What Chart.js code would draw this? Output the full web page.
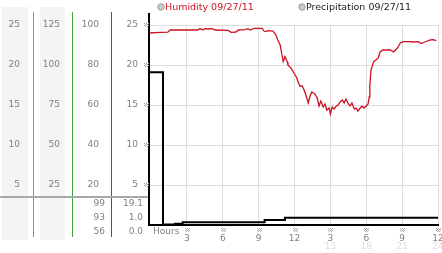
<!DOCTYPE html>
<html>
<head>
<meta charset="utf-8">
<script src="https://cdn.jsdelivr.net/npm/chart.js@4"></script>
<style>
  body { margin: 0; background: #fff; }
  canvas { display: block; }
</style>
</head>
<body>
<canvas id="chart" width="442" height="253"></canvas>
<script>
const humHours = [-0.17, 0.75, 1.4, 1.6, 2.85, 3.9, 4.1, 4.35, 4.5, 4.8,
    5.1, 5.35, 6.45, 6.7, 7.1, 7.3, 7.85, 8.1, 8.3, 8.6,
    9.3, 9.45, 9.6, 9.8, 10.2, 10.45, 10.6, 10.8, 10.95, 11.05,
    11.2, 11.4, 11.45, 11.7, 11.9, 12.05, 12.2, 12.3, 12.45, 12.65,
    12.8, 12.95, 13.15, 13.3, 13.45, 13.7, 13.9, 14.05, 14.2, 14.4,
    14.55, 14.7, 14.9, 15.0, 15.15, 15.3, 15.5, 15.65, 15.8, 16.0,
    16.15, 16.3, 16.5, 16.65, 16.8, 17.0, 17.15, 17.3, 17.5, 17.65,
    17.8, 18.0, 18.15, 18.25, 18.3, 18.4, 18.6, 18.8, 19.0, 19.15,
    19.4, 20.0, 20.3, 20.6, 20.85, 21.1, 21.65, 21.9, 22.35, 22.6,
    22.9, 23.35, 23.6, 23.85];
const humValues = [96, 96.3, 96.4, 97.5, 97.5, 97.5, 98.2, 97.5, 98.2, 98,
    98.2, 97.5, 97.3, 96.3, 96.5, 97.5, 97.7, 98.2, 97.5, 98.3,
    98.3, 97, 96.7, 97.2, 97, 95, 92.5, 90, 85, 81.7,
    84.2, 81.5, 80, 78.5, 76.5, 75, 73.5, 71.5, 69.5, 69.5,
    67.5, 65, 61, 64.5, 66.5, 65.5, 63.5, 59.5, 62, 59,
    60.5, 57.5, 58.5, 55.5, 59, 58, 59.5, 60, 61.5, 62.5,
    61, 63, 60.5, 59.5, 61, 58, 58.5, 57, 58.5, 59.5,
    58.5, 59.5, 60.5, 64, 70, 77.5, 81.5, 82.5, 83.5, 86.5,
    87.5, 87.5, 86.5, 88.5, 91, 91.7, 91.7, 91.5, 91.7, 90.7,
    91.5, 92.5, 92.7, 92.2];

const precipHours = [-0.17, 1.0, 2.0, 2.65, 9.5, 11.2, 24];
const precipValues = [19.1, 0.05, 0.15, 0.35, 0.62, 0.92, 0.92];

const hourTicks = [3, 6, 9, 12, 15, 18, 21, 24];
const humStats = ['99', '93', '56'];
const precipStats = ['19.1', '1.0', '0.0'];
const legendLabels = ['Humidity 09/27/11', 'Precipitation 09/27/11'];

const GRAY = '#808080';
const HUM_RED = '#cc1122';

function fixWidth(w) {
    return function (s) {
        s.width = w;
        s.paddingTop = 0;
        s.paddingBottom = 0;
    };
}
function fixHeight(h) {
    return function (s) {
        s.height = h;
        s.paddingLeft = 0;
        s.paddingRight = 0;
    };
}
function noZero(v) {
    return v === 0 ? '' : v;
}
function hourTicksOnly(s) {
    s.ticks = hourTicks.map(v => ({ value: v }));
}

function drawMark(ctx, cx, cy) {
    ctx.fillStyle = '#aaaaaa';
    const x0 = Math.round(cx) - 2, y0 = Math.round(cy) - 2;
    for (let i = 0; i < 5; i++) {
        for (let j = 0; j < 4; j++) {
            if ((i + j) % 2 === 0) ctx.fillRect(x0 + i, y0 + j, 1, 1);
        }
    }
}

const decor = {
    id: 'decor',
    beforeDraw(chart) {
        const ctx = chart.ctx;
        const s1 = chart.scales.yA, s2 = chart.scales.yB;
        ctx.save();
        ctx.fillStyle = '#ffffff';
        ctx.fillRect(0, 0, chart.width, chart.height);
        ctx.fillStyle = '#f4f4f4';
        ctx.fillRect(s1.left + 2, 7, 26, 233);
        ctx.fillRect(s2.left + 7, 7, 25, 233);
        ctx.restore();
    },
    afterDraw(chart) {
        const ctx = chart.ctx;
        const a = chart.chartArea;
        const sc = chart.scales;
        ctx.save();

        // coloured column lines
        [[sc.yA, '#3fa6d4'], [sc.yB, '#3aa63a'], [sc.yH, '#b03030']].forEach(([s, c]) => {
            ctx.fillStyle = c;
            ctx.fillRect(Math.round(s.right), 12, 1, 225);
        });

        // grey separator
        ctx.fillStyle = '#a8a8a8';
        ctx.fillRect(0, 196, a.left, 2);

        // left black axis
        ctx.fillStyle = '#000';
        ctx.fillRect(a.left - 1, 13, 2, a.bottom - 13);

        // max / current / min
        ctx.font = '9px "DejaVu Sans"';
        ctx.fillStyle = GRAY;
        ctx.textAlign = 'right';
        ctx.textBaseline = 'middle';
        humStats.forEach((t, i) => ctx.fillText(t, sc.yH.right - 6, 204 + i * 14));
        precipStats.forEach((t, i) => ctx.fillText(t, sc.yP.right - 6, 204 + i * 14));

        // Hours label
        ctx.textAlign = 'left';
        ctx.fillText('Hours', a.left + 4, 232);

        // small tick marks
        sc.yP.ticks.forEach(t => {
            if (t.value > 0) drawMark(ctx, a.left - 3, sc.yP.getPixelForValue(t.value));
        });
        hourTicks.forEach(h => drawMark(ctx, sc.x.getPixelForValue(h), 230));

        // legend
        ctx.font = '9.5px "DejaVu Sans"';
        const items = [[161, HUM_RED], [302, '#222222']];
        items.forEach(([x, c], i) => {
            ctx.beginPath();
            ctx.arc(x, 7, 3.2, 0, Math.PI * 2);
            ctx.fillStyle = '#cccccc';
            ctx.fill();
            ctx.strokeStyle = '#999999';
            ctx.lineWidth = 1;
            ctx.stroke();
            ctx.fillStyle = c;
            ctx.fillText(legendLabels[i], x + 4, 7.5);
        });
        ctx.restore();
    }
};

Chart.defaults.font.family = '"DejaVu Sans"';
Chart.defaults.font.size = 9;

new Chart(document.getElementById('chart'), {
    type: 'line',
    data: {
        datasets: [{
            label: legendLabels[0],
            data: humHours.map((h, i) => ({ x: h, y: humValues[i] })),
            xAxisID: 'x',
            yAxisID: 'yH',
            borderColor: HUM_RED,
            borderWidth: 1.3,
            pointRadius: 0,
            tension: 0
        }, {
            label: legendLabels[1],
            data: precipHours.map((h, i) => ({ x: h, y: precipValues[i] })),
            xAxisID: 'x',
            yAxisID: 'yP',
            borderColor: '#000000',
            borderWidth: 2,
            pointRadius: 0,
            stepped: 'before'
        }]
    },
    options: {
        responsive: false,
        animation: false,
        layout: { padding: { top: 25, right: 4, left: 0, bottom: 0 } },
        plugins: {
            legend: { display: false },
            tooltip: { enabled: false }
        },
        scales: {
            x: {
                type: 'linear',
                position: 'bottom',
                weight: 0,
                min: -0.17,
                max: 24,
                afterBuildTicks: hourTicksOnly,
                afterFit: fixHeight(16),
                ticks: {
                    color: GRAY,
                    padding: 8,
                    maxRotation: 0,
                    autoSkip: false,
                    callback: v => v > 12 ? v - 12 : v
                },
                grid: { color: '#dddddd', drawTicks: false },
                border: { color: '#000000', width: 2 }
            },
            x2: {
                type: 'linear',
                position: 'bottom',
                weight: 1,
                min: -0.17,
                max: 24,
                afterBuildTicks: hourTicksOnly,
                afterFit: fixHeight(12),
                ticks: {
                    color: '#dddddd',
                    padding: 0,
                    maxRotation: 0,
                    autoSkip: false,
                    callback: v => v > 12 ? v : ''
                },
                grid: { display: false, drawTicks: false },
                border: { display: false }
            },
            yP: {
                type: 'linear',
                position: 'left',
                weight: 1,
                min: 0,
                max: 25,
                afterFit: fixWidth(38),
                ticks: { stepSize: 5, padding: 11, color: GRAY, callback: noZero },
                grid: { color: '#dddddd', drawTicks: false },
                border: { display: false }
            },
            yH: {
                type: 'linear',
                position: 'left',
                weight: 2,
                min: 0,
                max: 100,
                afterFit: fixWidth(39),
                ticks: { stepSize: 20, padding: 12, color: GRAY, callback: noZero },
                grid: { display: false, drawTicks: false },
                border: { display: false }
            },
            yB: {
                type: 'linear',
                position: 'left',
                weight: 3,
                min: 0,
                max: 125,
                afterFit: fixWidth(39),
                ticks: { stepSize: 25, padding: 12, color: GRAY, callback: noZero },
                grid: { display: false, drawTicks: false },
                border: { display: false }
            },
            yA: {
                type: 'linear',
                position: 'left',
                weight: 4,
                min: 0,
                max: 25,
                afterFit: fixWidth(33),
                ticks: { stepSize: 5, padding: 13, color: GRAY, callback: noZero },
                grid: { display: false, drawTicks: false },
                border: { display: false }
            }
        }
    },
    plugins: [decor]
});
</script>
</body>
</html>
